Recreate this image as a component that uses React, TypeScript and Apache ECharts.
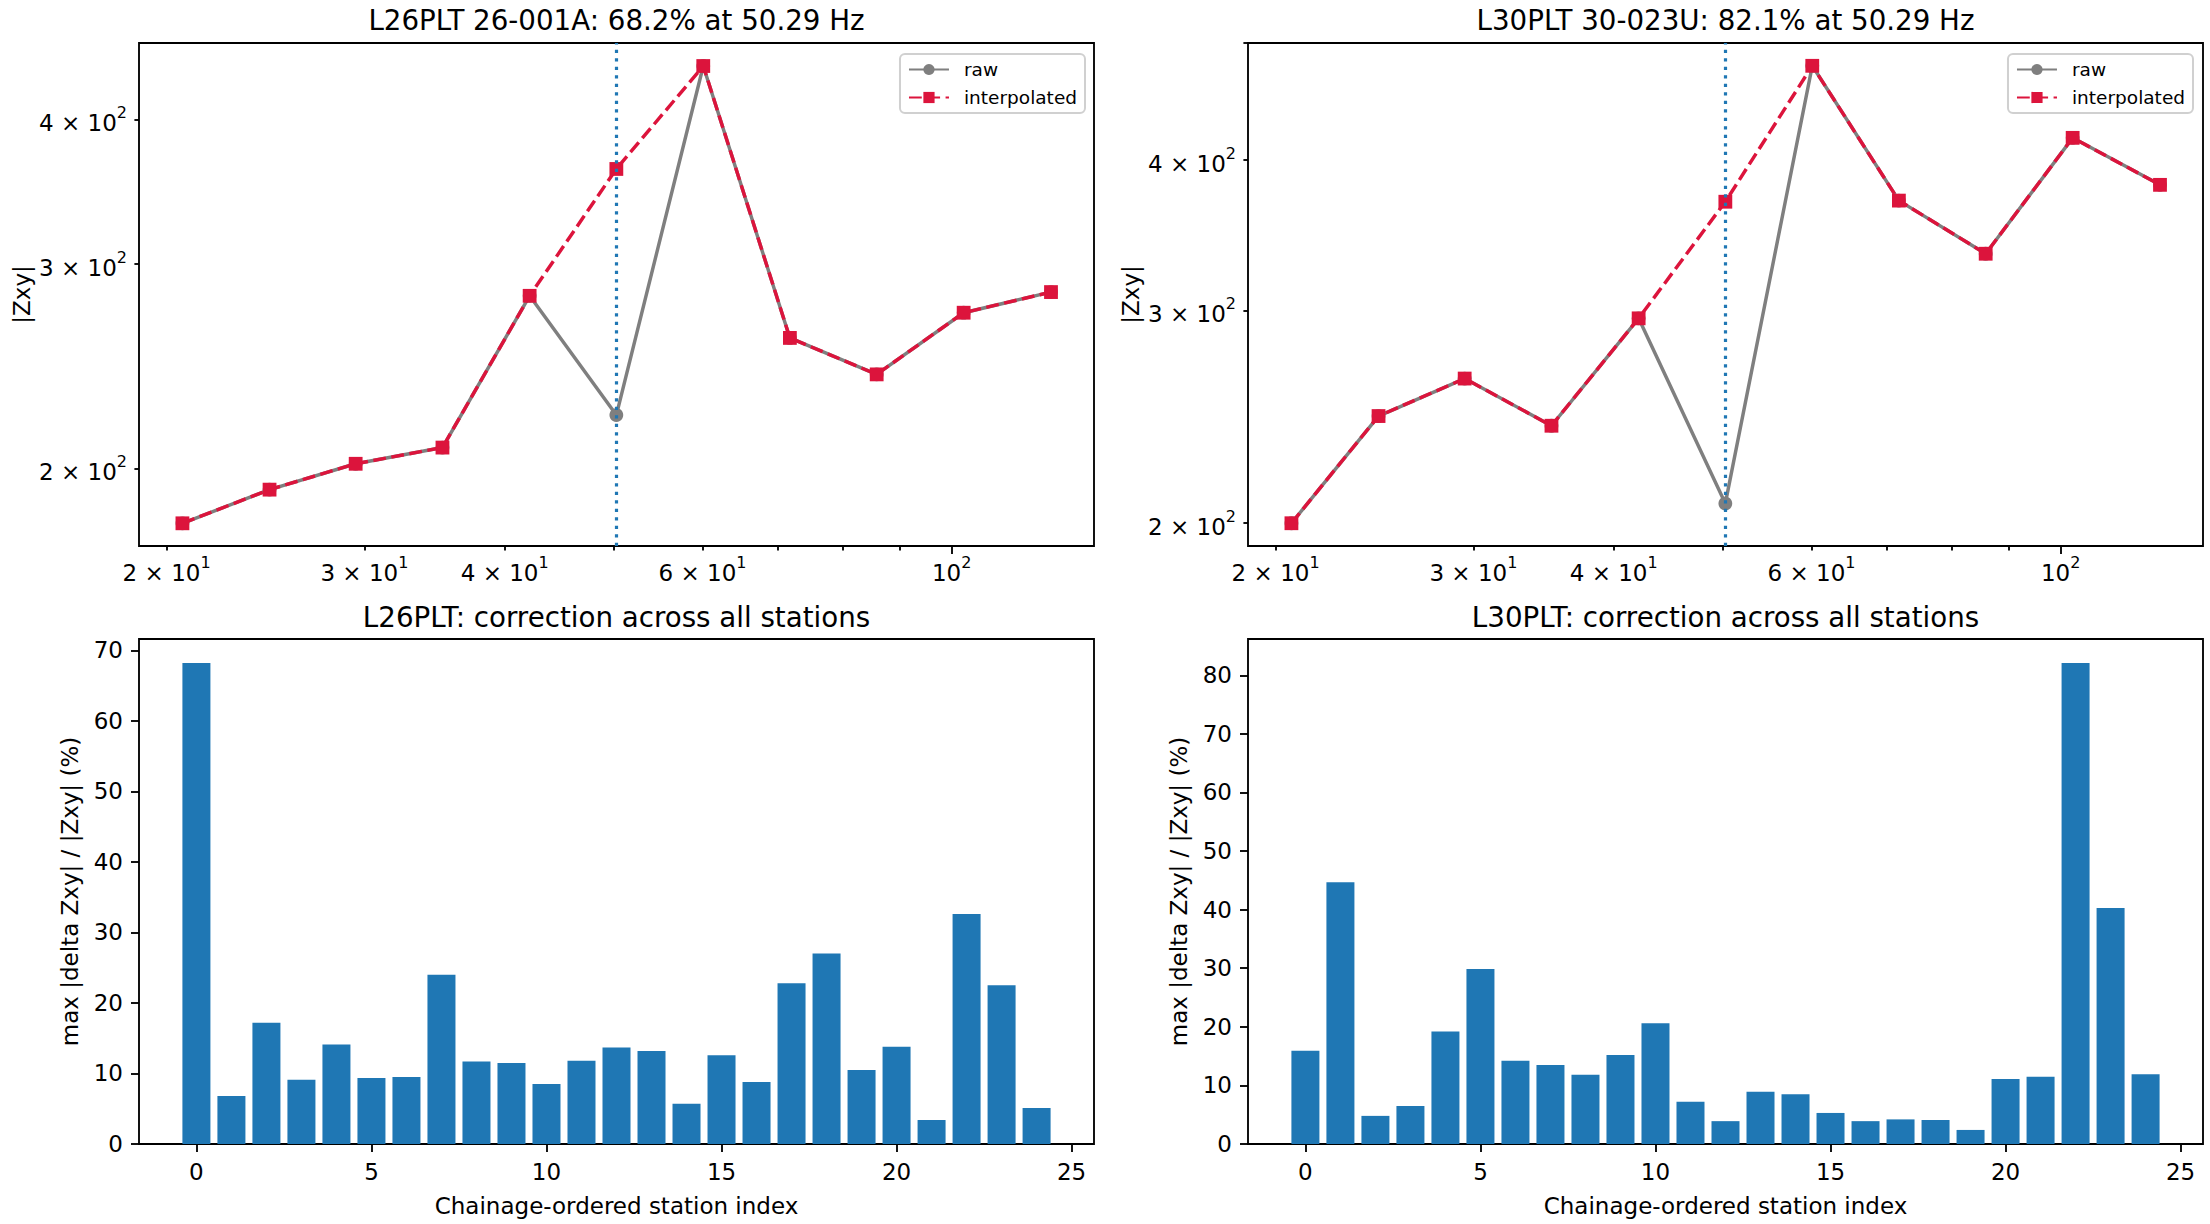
import { useEffect, useRef } from "react"
import * as echarts from "echarts"

// frequencies (Hz) shared by both stations
const freqs = [20.66, 24.7, 29.47, 35.21, 42.1, 50.29, 60.1, 71.78, 85.76, 102.5, 122.6]
const markFreq = 50.29

// |Zxy| per station
const l26Raw = [179.3, 191.7, 201.8, 208.4, 281.7, 222.3, 444.6, 259.1, 241.0, 272.4, 283.8]
const l26Interp = [179.3, 191.7, 201.8, 208.4, 281.7, 362.4, 444.6, 259.1, 241.0, 272.4, 283.8]
const l30Raw = [200.0, 245.4, 263.6, 240.9, 295.7, 207.7, 478.8, 370.2, 334.5, 417.3, 381.5]
const l30Interp = [200.0, 245.4, 263.6, 240.9, 295.7, 369.4, 478.8, 370.2, 334.5, 417.3, 381.5]

// max correction (%) by chainage-ordered station
const l26Corr = [68.2, 6.8, 17.2, 9.1, 14.1, 9.35, 9.5, 24.0, 11.7, 11.5, 8.5, 11.8, 13.7, 13.2, 5.7, 12.6, 8.8, 22.8, 27.0, 10.5, 13.8, 3.4, 32.6, 22.5, 5.1]
const l30Corr = [15.9, 44.7, 4.8, 6.5, 19.2, 29.85, 14.2, 13.5, 11.8, 15.2, 20.6, 7.2, 3.9, 8.9, 8.5, 5.3, 3.9, 4.2, 4.1, 2.4, 11.1, 11.5, 82.1, 40.3, 11.9]

// ticks
const freqMinorTicks = [20, 30, 40, 50, 60, 70, 80, 90]
const freqMajorTicks = [100]
const freqLabelValues = [20, 30, 40, 60, 100]
const freqLabels = ["{b|2 × 10}{s|1}", "{b|3 × 10}{s|1}", "{b|4 × 10}{s|1}", "{b|6 × 10}{s|1}", "{b|10}{s|2}"]
const zTicks = [200, 300, 400, 500]
const zLabelValues = [200, 300, 400]
const zLabels = ["{b|2 × 10}{s|2}", "{b|3 × 10}{s|2}", "{b|4 × 10}{s|2}"]
const stationTicks = [0, 5, 10, 15, 20, 25]
const l26PctTicks = [0, 10, 20, 30, 40, 50, 60, 70]
const l30PctTicks = [0, 10, 20, 30, 40, 50, 60, 70, 80]

const FONT = "DejaVu Sans"
const GRAY = "#7f7f7f"
const RED = "#dc143c"
const BLUE = "#1f77b4"

const pick = (vals: number[], labels: string[]) => (v: number) => {
  const i = vals.findIndex((t) => Math.abs(t - v) < 1e-6)
  return i >= 0 ? labels[i] : ""
}

const tickStyle = { color: "#000", width: 1.85 }
const labelStyle = { fontSize: 23, fontFamily: FONT, color: "#000" }
const sciRich = {
  b: { fontSize: 23, fontFamily: FONT, color: "#000", lineHeight: 30, verticalAlign: "bottom" },
  s: { fontSize: 16, fontFamily: FONT, color: "#000", lineHeight: 18, verticalAlign: "top" },
}

const freqAxis = (grid: number) => [
  {
    type: "log",
    logBase: 10,
    gridIndex: grid,
    position: "bottom",
    min: 18.9,
    max: 133.9,
    axisLine: { show: false, onZero: false },
    splitLine: { show: false },
    axisTick: { show: true, customValues: freqMinorTicks, length: 4.6, lineStyle: tickStyle },
    axisLabel: {
      ...labelStyle,
      customValues: freqLabelValues,
      formatter: pick(freqLabelValues, freqLabels),
      rich: sciRich,
      margin: 8,
    },
  },
  {
    type: "log",
    logBase: 10,
    gridIndex: grid,
    position: "bottom",
    min: 18.9,
    max: 133.9,
    axisLine: { show: false, onZero: false },
    splitLine: { show: false },
    axisTick: { show: true, customValues: freqMajorTicks, length: 8, lineStyle: tickStyle },
    axisLabel: { show: false },
  },
]

const zAxis = (grid: number, min: number, max: number) => ({
  type: "log",
  logBase: 10,
  gridIndex: grid,
  min,
  max,
  name: "|Zxy|",
  nameLocation: "middle",
  nameGap: 106,
  nameTextStyle: labelStyle,
  axisLine: { show: false, onZero: false },
  splitLine: { show: false },
  axisTick: { show: true, customValues: zTicks, length: 4.6, lineStyle: tickStyle },
  axisLabel: {
    ...labelStyle,
    customValues: zLabelValues,
    formatter: pick(zLabelValues, zLabels),
    rich: sciRich,
    margin: 12,
  },
})

const stationAxis = (grid: number) => ({
  type: "value",
  gridIndex: grid,
  min: -1.64,
  max: 25.64,
  name: "Chainage-ordered station index",
  nameLocation: "middle",
  nameGap: 50,
  nameTextStyle: labelStyle,
  axisLine: { show: false, onZero: false },
  splitLine: { show: false },
  axisTick: { show: true, customValues: stationTicks, length: 8, lineStyle: tickStyle },
  axisLabel: { ...labelStyle, customValues: stationTicks, margin: 16 },
})

const pctAxis = (grid: number, max: number, ticks: number[]) => ({
  type: "value",
  gridIndex: grid,
  min: 0,
  max,
  name: "max |delta Zxy| / |Zxy| (%)",
  nameLocation: "middle",
  nameGap: 58,
  nameTextStyle: labelStyle,
  axisLine: { show: false, onZero: false },
  splitLine: { show: false },
  axisTick: { show: true, customValues: ticks, length: 8, lineStyle: tickStyle },
  axisLabel: { ...labelStyle, customValues: ticks, margin: 16 },
})

const lineSeries = (axis: number, raw: number[], interp: number[]) => [
  {
    type: "line",
    name: "raw",
    xAxisIndex: axis * 2,
    yAxisIndex: axis,
    data: freqs.map((f, i) => [f, raw[i]]),
    symbol: "circle",
    symbolSize: 13.8,
    lineStyle: { color: GRAY, width: 3.46 },
    itemStyle: { color: GRAY },
    z: 2,
  },
  {
    type: "line",
    name: "interpolated",
    xAxisIndex: axis * 2,
    yAxisIndex: axis,
    data: freqs.map((f, i) => [f, interp[i]]),
    symbol: "rect",
    symbolSize: 13.8,
    lineStyle: { color: RED, width: 3.46, type: [12.8, 5.5] },
    itemStyle: { color: RED },
    z: 3,
    markLine: {
      silent: true,
      symbol: ["none", "none"],
      label: { show: false },
      lineStyle: { color: BLUE, width: 3.2, type: [3.2, 5.3], cap: "butt" },
      data: [{ xAxis: markFreq }],
    },
  },
]

const legendFor = (right: number) => ({
  data: ["raw", "interpolated"],
  orient: "vertical",
  right,
  top: 54,
  itemWidth: 40,
  itemHeight: 14,
  itemGap: 9,
  padding: [6, 8, 6, 8],
  borderColor: "#d0d0d0",
  borderWidth: 2,
  borderRadius: 5,
  backgroundColor: "rgba(255,255,255,0.8)",
  textStyle: { fontSize: 18.5, fontFamily: FONT, color: "#000", padding: [0, 0, 0, 10] },
})

const titleText = (text: string, x: number, y: number) => ({
  type: "text",
  x,
  y,
  silent: true,
  style: {
    text,
    fontSize: 27.7,
    fontFamily: FONT,
    fill: "#000",
    align: "center",
    verticalAlign: "middle",
  },
})

export default function App() {
  const chartRef = useRef<HTMLDivElement>(null)

  useEffect(() => {
    if (!chartRef.current) return
    const chart = echarts.init(chartRef.current, null, { renderer: "svg" })

    const gridBox = { show: true, borderColor: "#000", borderWidth: 1.85, containLabel: false }

    chart.setOption({
      animation: false,
      backgroundColor: "#fff",
      textStyle: { fontFamily: FONT },
      grid: [
        { ...gridBox, left: 139, top: 43, width: 955, height: 503 },
        { ...gridBox, left: 1248, top: 43, width: 955, height: 503 },
        { ...gridBox, left: 139, top: 639, width: 955, height: 505 },
        { ...gridBox, left: 1248, top: 639, width: 955, height: 505 },
      ],
      xAxis: [...freqAxis(0), ...freqAxis(1), stationAxis(2), stationAxis(3)],
      yAxis: [
        zAxis(0, 171.4, 465.4),
        zAxis(1, 191.5, 500.1),
        pctAxis(2, 71.61, l26PctTicks),
        pctAxis(3, 86.2, l30PctTicks),
      ],
      legend: [legendFor(1125), legendFor(17)],
      series: [
        ...lineSeries(0, l26Raw, l26Interp),
        ...lineSeries(1, l30Raw, l30Interp),
        {
          type: "bar",
          xAxisIndex: 4,
          yAxisIndex: 2,
          data: l26Corr.map((v, i) => [i, v]),
          barWidth: "80%",
          itemStyle: { color: BLUE },
        },
        {
          type: "bar",
          xAxisIndex: 5,
          yAxisIndex: 3,
          data: l30Corr.map((v, i) => [i, v]),
          barWidth: "80%",
          itemStyle: { color: BLUE },
        },
      ],
      graphic: [
        titleText("L26PLT 26-001A: 68.2% at 50.29 Hz", 616.5, 20),
        titleText("L30PLT 30-023U: 82.1% at 50.29 Hz", 1725.5, 20),
        titleText("L26PLT: correction across all stations", 616.5, 617),
        titleText("L30PLT: correction across all stations", 1725.5, 617),
      ],
    })

    return () => {
      chart.dispose()
    }
  }, [])

  return (
    <div
      ref={chartRef}
      style={{ position: "fixed", left: 0, top: 0, width: 2210, height: 1224 }}
    />
  )
}
